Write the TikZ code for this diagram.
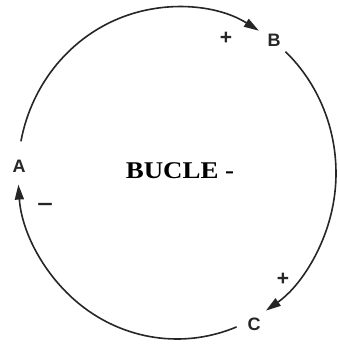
\documentclass[tikz,border=0pt]{standalone}
\usepackage{fontspec}
\setmainfont{Liberation Serif}
\setsansfont{Liberation Sans}
\usetikzlibrary{arrows.meta}
\begin{document}
\begin{tikzpicture}[x=1pt,y=1pt,
  loop/.style={line width=1.6pt, draw=black!85, -{Triangle[length=15pt,width=9pt]}},
  var/.style={font=\sffamily\bfseries\fontsize{18}{18}\selectfont, inner sep=0pt, text=black!85},
  sign/.style={font=\sffamily\bfseries\fontsize{21}{21}\selectfont, inner sep=0pt, text=black!85},
  title/.style={font=\rmfamily\bfseries\fontsize{24}{24}\selectfont, inner sep=0pt, xscale=1.12, transform shape}]
\useasboundingbox (0,0) rectangle (337,344);
\fill[white] (0,0) rectangle (337,344);
\coordinate (O) at (177,171);
\path (O) ++(169:159 and 166) coordinate (ab0);
\path (O) ++(47:159 and 166) coordinate (bc0);
\path (O) ++(-68:159 and 166) coordinate (ca0);
\node[var] (A) at (19,178) {A};
\node[var] (B) at (274,304) {B};
\node[var] (C) at (254,20) {C};
\node[title] (T) at (180,173) {BUCLE -};
\node[sign] (p1) at (226,306) {+};
\node[sign] (p2) at (283,65) {+};
\node[sign, xscale=1.3, transform shape] (m1) at (45,137) {−};
\draw[loop] (ab0) arc[start angle=169, end angle=59, x radius=159, y radius=166];
\draw[loop] (bc0) arc[start angle=47, end angle=-56, x radius=159, y radius=166];
\draw[loop] (ca0) arc[start angle=-68, end angle=-176, x radius=159, y radius=166];
\end{tikzpicture}
\end{document}
